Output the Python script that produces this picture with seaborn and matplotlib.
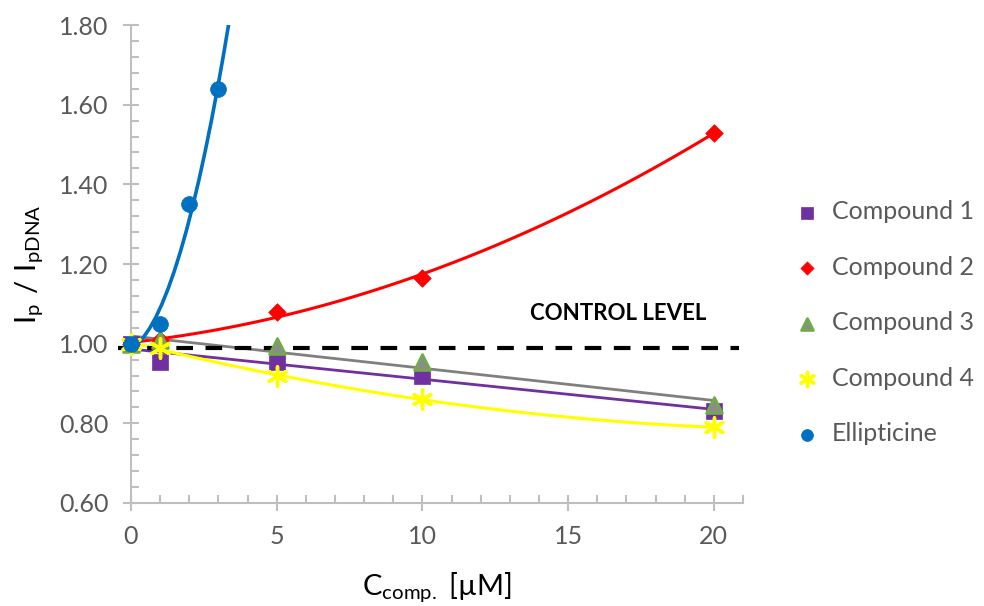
import numpy as np
import pandas as pd
import matplotlib
matplotlib.use("Agg")
import matplotlib.pyplot as plt
from matplotlib.ticker import MultipleLocator, FormatStrFormatter
import seaborn as sns

# valori
conc = [0, 1, 5, 10, 20]
compound1 = [1.00, 0.955, 0.955, 0.92, 0.83]
compound2 = [1.00, 1.01, 1.08, 1.165, 1.53]
compound3 = [1.00, 1.01, 0.995, 0.955, 0.845]
compound4 = [1.00, 0.99, 0.92, 0.86, 0.79]
conc_ellip = [0, 1, 2, 3]
ellipticine = [1.00, 1.05, 1.35, 1.64]
control_level = 0.99

names = ["Compound 1", "Compound 2", "Compound 3", "Compound 4", "Ellipticine"]
rows = []
for name, ys in zip(names[:4], [compound1, compound2, compound3, compound4]):
    for x, y in zip(conc, ys):
        rows.append({"conc": x, "ratio": y, "series": name})
for x, y in zip(conc_ellip, ellipticine):
    rows.append({"conc": x, "ratio": y, "series": "Ellipticine"})
df = pd.DataFrame(rows)

# stile marker per serie: (marker, faccia, bordo, spessore bordo, dimensione)
styles = {
    "Compound 1": ("s", "#7030A0", "#7030A0", 0.5, 120),
    "Compound 2": ("D", "#FF0000", "#FF0000", 0.5, 80),
    "Compound 3": ("^", "#8C8C8C", "#70AD47", 2.0, 130),
    "Compound 4": ((6, 2, 0), "#FFFF00", "#FFFF00", 2.5, 190),
    "Ellipticine": ("o", "#0070C0", "#0070C0", 0.5, 130),
}
line_colors = {"Compound 1": "#7030A0", "Compound 2": "#FF0000", "Compound 3": "#808080",
               "Compound 4": "#FFFF00", "Ellipticine": "#0070C0"}
line_widths = {"Compound 1": 2.0, "Compound 2": 2.2, "Compound 3": 2.0,
               "Compound 4": 2.2, "Ellipticine": 2.6}
orders = {"Compound 1": 1, "Compound 2": 2, "Compound 3": 1, "Compound 4": 2, "Ellipticine": 2}

sns.set_style("white")
plt.rcParams["font.family"] = ["Lato", "DejaVu Sans"]
plt.rcParams["mathtext.fontset"] = "custom"
plt.rcParams["mathtext.rm"] = "Lato"

fig = plt.figure(figsize=(9.84, 6.06), dpi=100)
ax = fig.add_axes([0.1331, 0.170, 0.6220, 0.7887])
ax.set_xlim(0, 21)
ax.set_ylim(0.6, 1.8)

# linee di tendenza (stile Excel)
for name in names:
    sub = df[df["series"] == name]
    sns.regplot(data=sub, x="conc", y="ratio", order=orders[name], ci=None,
                scatter=False, truncate=(name != "Ellipticine"), ax=ax,
                line_kws={"color": line_colors[name], "lw": line_widths[name], "zorder": 3})

# linea di controllo
ax.plot([-0.45, 20.85], [control_level, control_level], color="black", lw=3,
        dashes=(4, 3), clip_on=False, zorder=4)
ax.text(16.7, 1.075, "CONTROL LEVEL", fontsize=16, fontweight="bold",
        ha="center", va="center", color="black")

for name in names:
    sub = df[df["series"] == name]
    mk, fc, ec, lw, s = styles[name]
    if name == "Compound 4":
        sns.scatterplot(data=sub, x="conc", y="ratio", marker=mk, s=s, color=ec,
                        linewidth=lw, ax=ax, zorder=5, label=name, clip_on=False)
    else:
        sns.scatterplot(data=sub, x="conc", y="ratio", marker=mk, s=s, facecolor=fc,
                        edgecolor=ec, linewidth=lw, ax=ax, zorder=5, label=name,
                        clip_on=False)

ax.set_xlim(0, 21)
ax.set_ylim(0.6, 1.8)

# assi
for side in ["top", "right"]:
    ax.spines[side].set_visible(False)
for side in ["left", "bottom"]:
    ax.spines[side].set_color("#BFBFBF")
    ax.spines[side].set_linewidth(1.5)

ax.xaxis.set_major_locator(MultipleLocator(5))
ax.xaxis.set_minor_locator(MultipleLocator(1))
ax.yaxis.set_major_locator(MultipleLocator(0.2))
ax.yaxis.set_minor_locator(MultipleLocator(0.04))
ax.yaxis.set_major_formatter(FormatStrFormatter("%.2f"))
ax.tick_params(which="major", direction="inout", length=12, width=1.5, color="#BFBFBF",
               labelsize=18, labelcolor="#595959", pad=10)
ax.tick_params(which="minor", direction="in", length=6, width=1.5, color="#BFBFBF")
ax.tick_params(axis="both", which="both", bottom=True, left=True)

ax.set_xlabel(r"$\mathregular{C_{comp.}}$ [µM]", fontsize=21, color="black", labelpad=16)
ax.set_ylabel(r"$\mathregular{I_p\ /\ I_{pDNA}}$", fontsize=21, color="black", labelpad=10)

# legenda
handles, labels = ax.get_legend_handles_labels()
leg = ax.legend(handles, labels, loc="upper left", bbox_to_anchor=(1.035, 0.67),
                frameon=False, fontsize=18, labelcolor="#595959",
                handletextpad=0.0, labelspacing=1.3, markerscale=0.75,
                borderaxespad=0.3)

fig.savefig("out.png", dpi=100)
